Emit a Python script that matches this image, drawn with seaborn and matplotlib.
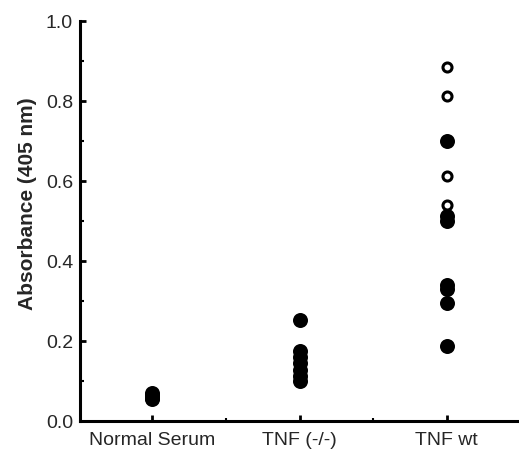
import numpy as np
import pandas as pd
import seaborn as sns
import matplotlib
matplotlib.use("Agg")
import matplotlib.pyplot as plt
from matplotlib.ticker import MultipleLocator, FormatStrFormatter

# groups shown on the x axis
groups = ["Normal Serum", "TNF (-/-)", "TNF wt"]

# absorbance readings
normal_serum = [0.055, 0.058, 0.062, 0.066, 0.07]
tnf_ko = [0.253, 0.175, 0.16, 0.145, 0.128, 0.112, 0.10]
tnf_wt_filled = [0.70, 0.512, 0.50, 0.34, 0.33, 0.294, 0.188]
tnf_wt_open = [0.886, 0.812, 0.613, 0.541]

filled = pd.DataFrame({
    "group": [groups[0]] * len(normal_serum) + [groups[1]] * len(tnf_ko)
             + [groups[2]] * len(tnf_wt_filled),
    "absorbance": normal_serum + tnf_ko + tnf_wt_filled,
})
opened = pd.DataFrame({
    "group": [groups[2]] * len(tnf_wt_open),
    "absorbance": tnf_wt_open,
})

sns.set_style("ticks")
plt.rcParams["font.family"] = ["Liberation Sans", "DejaVu Sans"]

fig = plt.figure(figsize=(5.19, 4.56), dpi=100)
ax = fig.add_axes([80 / 519, 34 / 456, 439 / 519, 400 / 456])

sns.stripplot(data=filled, x="group", y="absorbance", order=groups,
              jitter=False, color="black", size=10.8, linewidth=0, ax=ax)
sns.stripplot(data=opened, x="group", y="absorbance", order=groups,
              jitter=False, color="white", edgecolor="black", size=6.5,
              linewidth=2.2, ax=ax)

ax.set_xlim(-0.49, 2.49)
ax.set_ylim(0, 1.0)
ax.yaxis.set_major_locator(MultipleLocator(0.2))
ax.yaxis.set_minor_locator(MultipleLocator(0.1))
ax.yaxis.set_major_formatter(FormatStrFormatter("%.1f"))
ax.xaxis.set_minor_locator(MultipleLocator(0.5))

for side in ["top", "right"]:
    ax.spines[side].set_visible(False)
for side in ["left", "bottom"]:
    ax.spines[side].set_linewidth(2.2)
    ax.spines[side].set_color("black")

ax.tick_params(axis="both", which="both", direction="in", color="black")
ax.tick_params(axis="y", which="major", length=4, width=2, labelsize=14, pad=5)
ax.tick_params(axis="y", which="minor", length=3, width=1.5)
ax.tick_params(axis="x", which="major", length=4, width=2, labelsize=14, pad=7)
ax.tick_params(axis="x", which="minor", length=2.5, width=1.5)

ax.set_xlabel("")
ax.set_ylabel("Absorbance (405 nm)", fontsize=15, fontweight="bold")
ax.yaxis.set_label_coords(-0.098, 0.545)

fig.savefig("out.png", dpi=100)
